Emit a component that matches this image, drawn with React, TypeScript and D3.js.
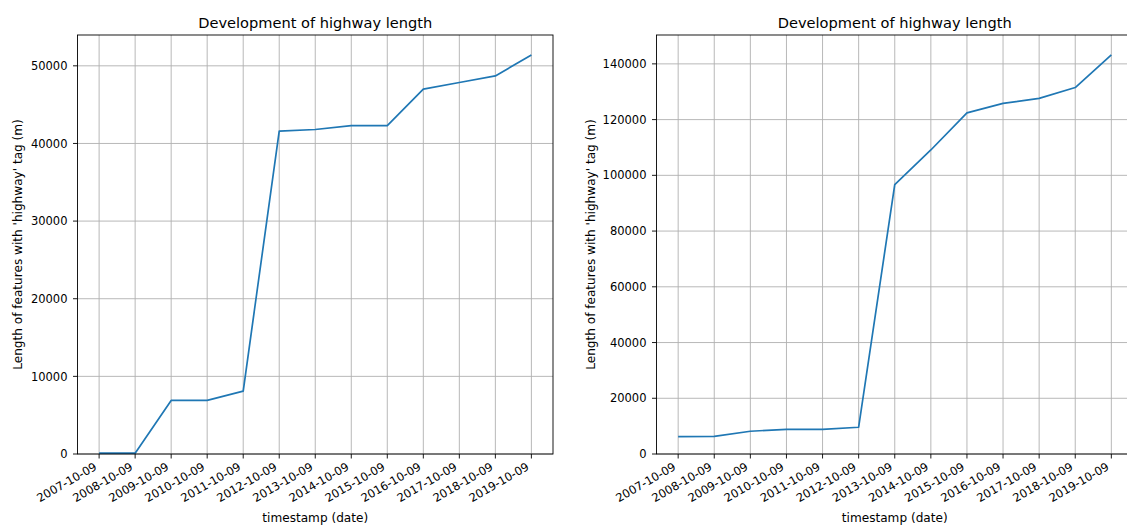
import React from "react";
import * as d3 from "d3";

const dates = ["2007-10-09","2008-10-09","2009-10-09","2010-10-09","2011-10-09","2012-10-09","2013-10-09","2014-10-09","2015-10-09","2016-10-09","2017-10-09","2018-10-09","2019-10-09"];
const leftValues = [100, 100, 6900, 6900, 8100, 41600, 41800, 42300, 42300, 47000, 47850, 48700, 51400];
const rightValues = [6270, 6300, 8170, 8850, 8850, 9600, 96700, 109100, 122400, 125800, 127600, 131500, 143200];
const leftTicks = [0, 10000, 20000, 30000, 40000, 50000];
const rightTicks = [0, 20000, 40000, 60000, 80000, 100000, 120000, 140000];
const title = "Development of highway length";
const xLabel = "timestamp (date)";
const yLabel = "Length of features with 'highway' tag (m)";

const W = 1127, H = 525;
const FONT = "DejaVu Sans, sans-serif";
const FS = 11.5;
const LFS = 12.1;
const TFS = 14.6;

function Panel({ x0, x1, values, ticks, ylabelX }: { x0: number; x1: number; values: number[]; ticks: number[]; ylabelX: number }) {
  const top = 35, bottom = 454;
  const maxV = d3.max(values) as number;
  const x = d3.scalePoint<string>().domain(dates).range([x0, x1]).padding(0.6);
  const y = d3.scaleLinear().domain([0, maxV * 1.05]).range([bottom, top]);
  const line = d3.line<number>().x((_, i) => x(dates[i]) as number).y((v) => y(v));
  const cx = (x0 + x1) / 2;
  return (
    <g fontFamily={FONT} fill="#000">
      <rect x={x0} y={top} width={x1 - x0} height={bottom - top} fill="#fff" />
      {dates.map((d) => (
        <line key={"gx" + d} x1={x(d)} x2={x(d)} y1={top} y2={bottom} stroke="#b0b0b0" strokeWidth={0.9} />
      ))}
      {ticks.map((t) => (
        <line key={"gy" + t} x1={x0} x2={x1} y1={y(t)} y2={y(t)} stroke="#b0b0b0" strokeWidth={0.9} />
      ))}
      <path d={line(values) as string} fill="none" stroke="#1f77b4" strokeWidth={1.7} strokeLinejoin="round" />
      <rect x={x0} y={top} width={x1 - x0} height={bottom - top} fill="none" stroke="#000" strokeWidth={0.9} />
      {ticks.map((t) => (
        <g key={"ty" + t}>
          <line x1={x0 - 4.5} x2={x0} y1={y(t)} y2={y(t)} stroke="#000" strokeWidth={0.9} />
          <text x={x0 - 10} y={y(t)} dy="0.36em" textAnchor="end" fontSize={FS}>{t}</text>
        </g>
      ))}
      {dates.map((d) => (
        <g key={"tx" + d}>
          <line x1={x(d)} x2={x(d)} y1={bottom} y2={bottom + 4.5} stroke="#000" strokeWidth={0.9} />
          <text transform={`translate(${(x(d) as number) - 1.5},${bottom + 15}) rotate(-30)`} textAnchor="end" fontSize={FS}>{d}</text>
        </g>
      ))}
      <text x={cx} y={28} textAnchor="middle" fontSize={TFS}>{title}</text>
      <text x={cx} y={522} textAnchor="middle" fontSize={LFS}>{xLabel}</text>
      <text transform={`translate(${ylabelX},${(top + bottom) / 2}) rotate(-90)`} textAnchor="middle" fontSize={LFS}>{yLabel}</text>
    </g>
  );
}

export default function App() {
  return (
    <svg width={W} height={H} style={{ position: "absolute", left: 0, top: 0, background: "#fff" }}>
      <rect width={W} height={H} fill="#fff" />
      <Panel x0={77.5} x1={553} values={leftValues} ticks={leftTicks} ylabelX={22} />
      <Panel x0={656.5} x1={1133} values={rightValues} ticks={rightTicks} ylabelX={595} />
    </svg>
  );
}
